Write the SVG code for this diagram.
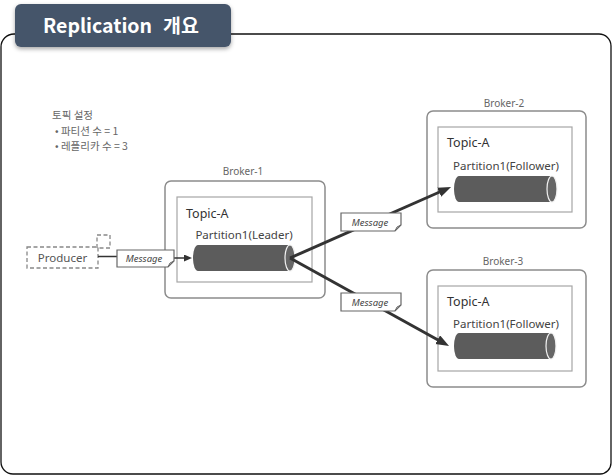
<svg xmlns="http://www.w3.org/2000/svg" width="613" height="476" viewBox="0 0 613 476">
<style>
.frame{fill:none;stroke:#111;stroke-width:1.3}
.tab{fill:#44546a}
.title{font-family:"Noto Sans CJK KR","Noto Sans",sans-serif;font-weight:bold;font-size:19.5px;fill:#fff}
.note{font-family:"Noto Sans CJK KR","Noto Sans",sans-serif;font-size:10.5px;fill:#666}
.broker{fill:#fff;stroke:#8c8c8c;stroke-width:1.5}
.topic{fill:#fff;stroke:#a6a6a6;stroke-width:1.2}
.blabel{font-family:"Noto Sans","Liberation Sans",sans-serif;font-size:10px;fill:#666;text-anchor:middle}
.tlabel{font-family:"Noto Sans","Liberation Sans",sans-serif;font-size:12.5px;fill:#333}
.plabel{font-family:"Noto Sans","Liberation Sans",sans-serif;font-size:11.5px;fill:#444;text-anchor:middle}
.cyl{fill:#5c5c5c}
.cylend{fill:#666;stroke:#f2f2f2;stroke-width:1.2}
.dash{fill:none;stroke:#888;stroke-width:1.3;stroke-dasharray:4 2.5}
.prod{font-family:"Noto Sans","Liberation Sans",sans-serif;font-size:11.5px;fill:#555;text-anchor:middle}
.msg{fill:#fff;stroke:#666;stroke-width:1.2}
.msgt{font-family:"Noto Sans","Liberation Sans",sans-serif;font-size:9.5px;font-style:italic;fill:#444;text-anchor:middle}
.thick{stroke:#333;stroke-width:3;fill:none}
.thin{stroke:#333;stroke-width:1.5;fill:none}
</style>
<defs>
<marker id="ah" markerUnits="userSpaceOnUse" markerWidth="13" markerHeight="11" refX="3" refY="5" orient="auto">
<path d="M0,0 L13,5 L0,10 Z" fill="#333"/>
</marker>
<marker id="ahs" markerUnits="userSpaceOnUse" markerWidth="9" markerHeight="8" refX="1" refY="3.5" orient="auto">
<path d="M0,0 L8,3.5 L0,7 Z" fill="#333"/>
</marker>
<filter id="sh" x="-10%" y="-20%" width="120%" height="150%">
<feDropShadow dx="0" dy="2" stdDeviation="2" flood-color="#000" flood-opacity="0.35"/>
</filter>
</defs>
<rect width="613" height="476" fill="#fff"/>
<path class="frame" d="M20,34 H599 A12,12 0 0 1 611,46 V463 A11,11 0 0 1 600,474 H13 A12,12 0 0 1 1,462 V47 A13,13 0 0 1 14,34 H20"/>
<g id="title">
<rect class="tab" x="15" y="4" width="216" height="43" rx="6" filter="url(#sh)"/>
<text class="title" x="43" y="33">Replication</text>
<text class="title" x="163" y="33">개요</text>
</g>
<g id="note">
<text class="note" x="52" y="119">토픽 설정</text>
<text class="note" x="55" y="134.5">• 파티션 수 = 1</text>
<text class="note" x="55" y="150">• 레플리카 수 = 3</text>
</g>
<g id="producer">
<rect class="dash" x="27" y="247" width="71" height="21"/>
<rect class="dash" x="97" y="235" width="13" height="13"/>
<text class="prod" x="62.5" y="262">Producer</text>
</g>
<g id="broker-1">
<text class="blabel" x="243" y="175">Broker-1</text>
<rect class="broker" x="165" y="181" width="160" height="117" rx="6"/>
<rect class="topic" x="177" y="197" width="135" height="85"/>
<text class="tlabel" x="186" y="218">Topic-A</text>
<text class="plabel" x="244" y="239">Partition1(Leader)</text>
<path class="cyl" d="M198,245 H290 V271 H198 A5,13 0 0 1 198,245 Z"/>
<ellipse class="cylend" cx="290" cy="258" rx="5" ry="13"/>
</g>
<g id="broker-2">
<text class="blabel" x="504" y="107">Broker-2</text>
<rect class="broker" x="427" y="111" width="159" height="117" rx="6"/>
<rect class="topic" x="438" y="127" width="134" height="85"/>
<text class="tlabel" x="447" y="147">Topic-A</text>
<text class="plabel" x="506" y="170">Partition1(Follower)</text>
<path class="cyl" d="M459,176 H552 V202 H459 A5,13 0 0 1 459,176 Z"/>
<ellipse class="cylend" cx="552" cy="189" rx="5" ry="13"/>
</g>
<g id="broker-3">
<text class="blabel" x="503" y="265">Broker-3</text>
<rect class="broker" x="427" y="270" width="159" height="117" rx="6"/>
<rect class="topic" x="438" y="286" width="134" height="85"/>
<text class="tlabel" x="447" y="306">Topic-A</text>
<text class="plabel" x="506" y="328">Partition1(Follower)</text>
<path class="cyl" d="M459,333 H551 V359 H459 A5,13 0 0 1 459,333 Z"/>
<ellipse class="cylend" cx="551" cy="346" rx="5" ry="13"/>
</g>
<g id="connectors">
<line class="thin" x1="98" y1="256.5" x2="117" y2="256.5"/>
<line class="thin" x1="174" y1="258" x2="185" y2="258" marker-end="url(#ahs)"/>
<line class="thick" x1="290" y1="258" x2="441.9" y2="191" marker-end="url(#ah)"/>
<line class="thick" x1="290" y1="258" x2="440.3" y2="341.2" marker-end="url(#ah)"/>
</g>
<g id="message-1">
<path class="msg" d="M117,250 H174 V261 L168,267 H117 Z"/>
<path d="M168,267 Q169,262 174,261" fill="none" stroke="#666" stroke-width="1"/>
<text class="msgt" x="144" y="262">Message</text>
</g>
<g id="message-2">
<path class="msg" d="M341,213 H401 V225 L395,231 H341 Z"/>
<path d="M395,231 Q396,226 401,225" fill="none" stroke="#666" stroke-width="1"/>
<text class="msgt" x="370" y="226">Message</text>
</g>
<g id="message-3">
<path class="msg" d="M341,293 H401 V305 L395,311 H341 Z"/>
<path d="M395,311 Q396,306 401,305" fill="none" stroke="#666" stroke-width="1"/>
<text class="msgt" x="370" y="306">Message</text>
</g>
</svg>
